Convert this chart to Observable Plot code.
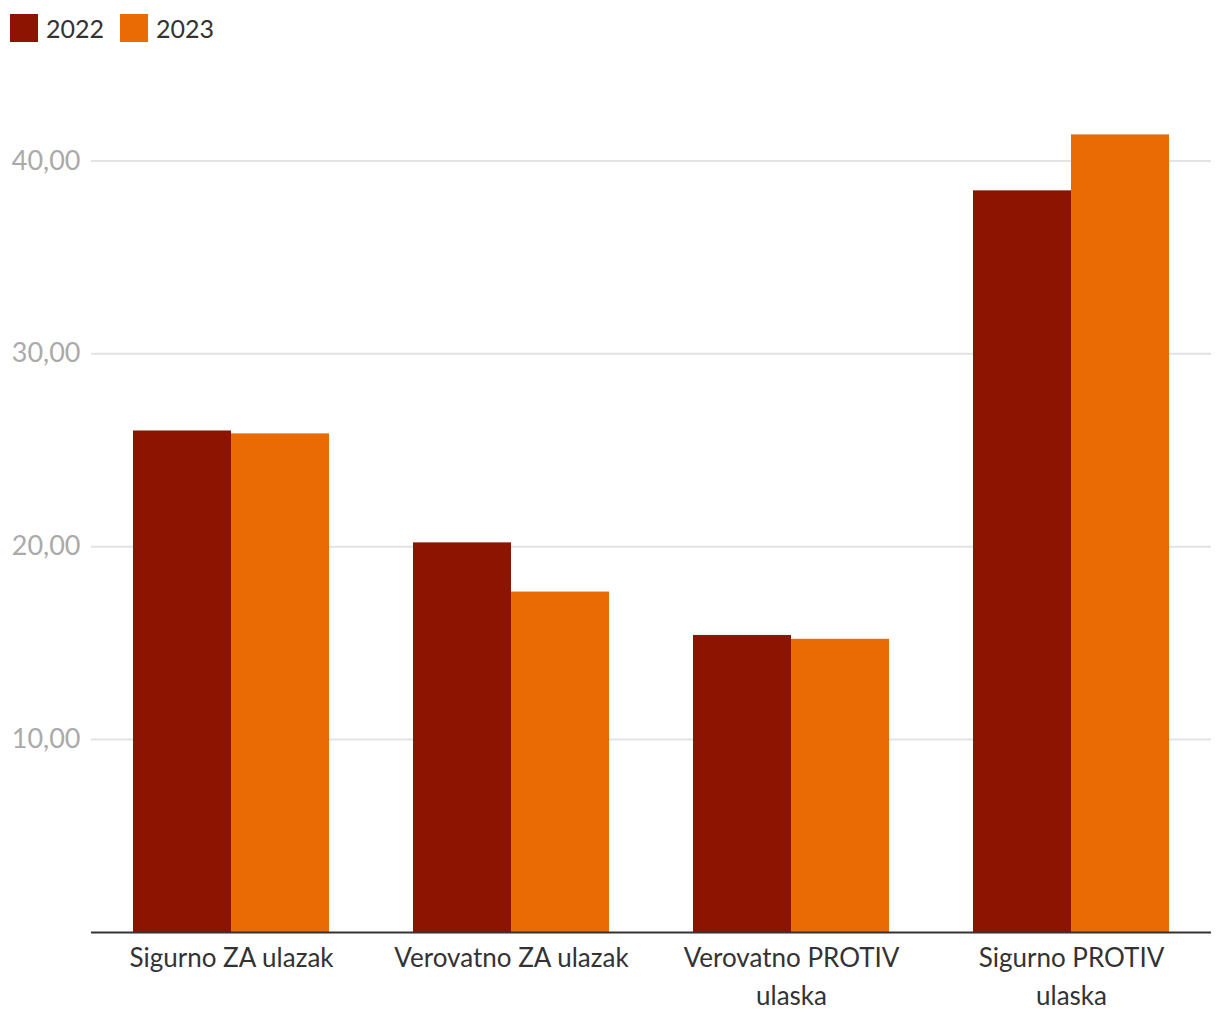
<!DOCTYPE html>
<html>
<head>
<meta charset="utf-8">
<script src="https://cdn.jsdelivr.net/npm/d3@7"></script>
<script src="https://cdn.jsdelivr.net/npm/@observablehq/plot@0.6"></script>
<style>
  html, body { margin: 0; padding: 0; background: #fff; }
  body { width: 1220px; height: 1020px; font-family: Lato, "Noto Sans", sans-serif; }
  #legend { height: 60px; display: flex; align-items: flex-start; padding: 14px 0 0 10px; box-sizing: border-box; }
  .item { display: flex; align-items: center; margin-right: 16px; font-size: 25px; color: #333; line-height: 28px; }
  .sw { width: 28px; height: 28px; margin-right: 8px; }
</style>
</head>
<body>
<div id="legend"></div>
<div id="chart"></div>
<script>
const categories = ["Sigurno ZA ulazak", "Verovatno ZA ulazak", "Verovatno PROTIV ulaska", "Sigurno PROTIV ulaska"];
const categoryLabels = ["Sigurno ZA ulazak", "Verovatno ZA ulazak", "Verovatno PROTIV\nulaska", "Sigurno PROTIV\nulaska"];
const years = ["2022", "2023"];
const values2022 = [26.0, 20.2, 15.4, 38.45];
const values2023 = [25.85, 17.65, 15.2, 41.35];
const yTicks = [10, 20, 30, 40];
const yTickLabels = ["10,00", "20,00", "30,00", "40,00"];
const colors = ["#8c1400", "#ea6a03"];

const legend = document.getElementById("legend");
years.forEach((y, i) => {
  const it = document.createElement("div");
  it.className = "item";
  it.innerHTML = `<div class="sw" style="background:${colors[i]}"></div><span>${y}</span>`;
  legend.appendChild(it);
});

const d22 = categories.map((c, i) => ({cat: c, value: values2022[i]}));
const d23 = categories.map((c, i) => ({cat: c, value: values2023[i]}));

const W = 1220, ML = 91, MR = 9;
const step = (W - ML - MR) / categories.length;
const bw = step * 0.7;
const half = bw / 2;

const chart = Plot.plot({
  width: W,
  height: 960,
  marginLeft: ML,
  marginRight: MR,
  marginTop: 4,
  marginBottom: 88,
  style: {fontFamily: "Lato, 'Noto Sans', sans-serif", background: "#fff"},
  x: {domain: categories, paddingInner: 0.3, paddingOuter: 0.15, label: null},
  y: {domain: [0, 45], label: null},
  marks: [
    Plot.gridY(yTicks, {stroke: "#e3e3e3", strokeOpacity: 1, strokeWidth: 2}),
    Plot.barY(d22, {x: "cat", y: "value", fill: colors[0], insetRight: half}),
    Plot.barY(d23, {x: "cat", y: "value", fill: colors[1], insetLeft: half}),
    Plot.ruleY([0], {stroke: "#333", strokeWidth: 2}),
    Plot.axisY(yTicks, {tickSize: 0, tickPadding: 11, tickFormat: (d) => yTickLabels[yTicks.indexOf(d)], fontSize: 27, fill: "#aaa", label: null}),
    Plot.axisX({tickSize: 0, tickPadding: 8, tickFormat: (d) => categoryLabels[categories.indexOf(d)], fontSize: 26, fill: "#333", lineHeight: 1.44, label: null})
  ]
});
document.getElementById("chart").appendChild(chart);
</script>
</body>
</html>
